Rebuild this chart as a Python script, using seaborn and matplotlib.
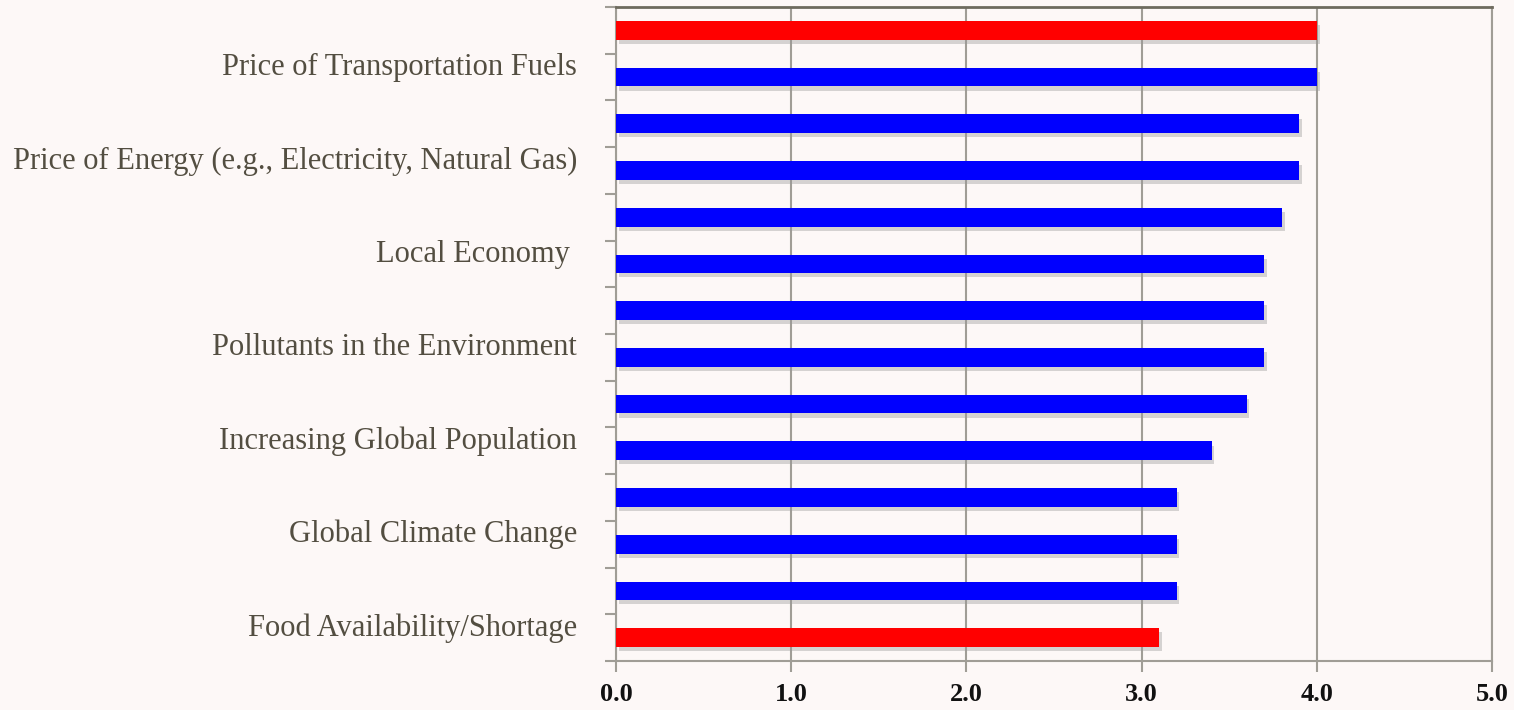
import matplotlib
matplotlib.use("Agg")
import matplotlib.pyplot as plt
import matplotlib.patheffects as pe
import matplotlib.transforms as mtransforms
import seaborn as sns
import pandas as pd
import numpy as np

row_ids = [f"r{i:02d}" for i in range(14)]
row_labels = ["", "Price of Transportation Fuels",
              "", "Price of Energy (e.g., Electricity, Natural Gas)",
              "", "Local Economy ",
              "", "Pollutants in the Environment",
              "", "Increasing Global Population",
              "", "Global Climate Change",
              "", "Food Availability/Shortage"]
values = [4.0, 4.0, 3.9, 3.9, 3.8, 3.7, 3.7, 3.7, 3.6, 3.4, 3.2, 3.2, 3.2, 3.1]
bar_colors = ["#ff0000"] + ["#0000ff"] * 12 + ["#ff0000"]
x_ticks = [0.0, 1.0, 2.0, 3.0, 4.0, 5.0]

bg = "#fdf8f7"
sns.set_theme(style="white")
plt.rcParams["font.family"] = ["Liberation Serif", "DejaVu Serif"]

df = pd.DataFrame({"row": row_ids, "value": values})

fig = plt.figure(figsize=(15.14, 7.10), dpi=100, facecolor=bg)
ax = fig.add_axes([616 / 1514, 1 - 661 / 710, (1492 - 616) / 1514, (661 - 7) / 710])
ax.set_facecolor(bg)

sns.barplot(data=df, x="value", y="row", hue="row", palette=bar_colors,
            orient="h", width=0.4, legend=False, ax=ax, saturation=1,
            edgecolor="none", zorder=3)

for p in ax.patches:
    p.set_path_effects([pe.SimplePatchShadow(offset=(2, -3), shadow_rgbFace="#9a9a9a", alpha=0.4),
                        pe.Normal()])

ax.set_xlim(0, 5)
ax.set_ylim(13.5, -0.5)
ax.set_xticks(x_ticks)
ax.set_xticklabels([f"{v:.1f}" for v in x_ticks])
ax.tick_params(axis="x", length=8, width=1.5, color="#a09d96", pad=8, direction="out",
               bottom=True, labelsize=19, labelcolor="#111111")
for lbl in ax.get_xticklabels():
    lbl.set_fontweight("bold")

ax.set_yticks(range(14))
ax.set_yticklabels(row_labels)
ax.tick_params(axis="y", which="major", length=0, pad=28, labelsize=22, labelcolor="#534e41")
ax.set_yticks(np.arange(-0.5, 14.0, 1.0), minor=True)
ax.tick_params(axis="y", which="minor", length=8, width=1.5, color="#a09d96", left=True)

offset = mtransforms.ScaledTranslation(0, 13 / 100, fig.dpi_scale_trans)
for lbl in ax.get_yticklabels():
    lbl.set_transform(lbl.get_transform() + offset)

ax.grid(axis="x", color="#a09d96", linewidth=1.5, zorder=0)
ax.grid(axis="y", visible=False)
ax.set_xlabel("")
ax.set_ylabel("")

for side in ["left", "bottom", "right"]:
    ax.spines[side].set_visible(True)
    ax.spines[side].set_color("#a09d96")
    ax.spines[side].set_linewidth(1.5)
ax.spines["top"].set_visible(True)
ax.spines["top"].set_color("#6e6b5e")
ax.spines["top"].set_linewidth(2)

fig.savefig("out.png", dpi=100, facecolor=bg)
